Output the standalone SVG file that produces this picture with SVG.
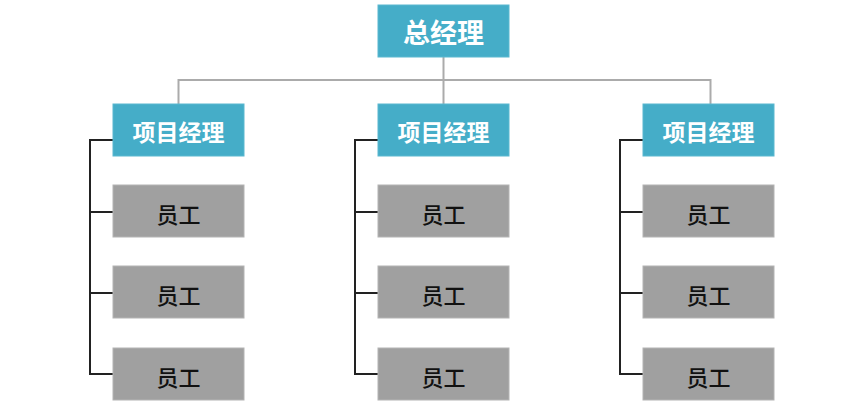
<svg xmlns="http://www.w3.org/2000/svg" width="864" height="409" viewBox="0 0 864 409">
<style>
.mgr rect{fill:#45ADC8;stroke:#5BB8D0;stroke-width:1}
.emp rect{fill:#A0A0A0;stroke:#B4B4B4;stroke-width:1}
text{font-family:"Noto Sans CJK SC","Noto Sans CJK TC",sans-serif;text-anchor:middle;dominant-baseline:central;font-weight:bold}
.mgr text{fill:#fff}
.emp text{fill:#111;font-size:22px;font-weight:500}
.gray{stroke:#ABABAB;stroke-width:2;fill:none}
.dark{stroke:#222;stroke-width:2;fill:none}
</style>
<rect width="864" height="409" fill="#fff"/>
<g id="connectors">
<path class="gray" d="M443.5 57V104M178.5 104V80H710.5V104"/>
<path class="dark" d="M113 140H90V374H113M90 212H113M90 293H113"/>
<path class="dark" d="M378 140H355V374H378M355 212H378M355 293H378"/>
<path class="dark" d="M643 140H620V374H643M620 212H643M620 293H643"/>
</g>
<g id="ceo" class="mgr"><rect x="378" y="5" width="131" height="52"/><text x="443.5" y="31" font-size="27">总经理</text></g>
<g id="pm1" class="mgr"><rect x="113" y="104" width="131" height="52"/><text x="178.5" y="131" font-size="23">项目经理</text></g>
<g id="pm2" class="mgr"><rect x="378" y="104" width="131" height="52"/><text x="443.5" y="131" font-size="23">项目经理</text></g>
<g id="pm3" class="mgr"><rect x="643" y="104" width="131" height="52"/><text x="708.5" y="131" font-size="23">项目经理</text></g>
<g id="e11" class="emp"><rect x="113" y="185" width="131" height="52"/><text x="178.5" y="213">员工</text></g>
<g id="e12" class="emp"><rect x="113" y="266" width="131" height="52"/><text x="178.5" y="294">员工</text></g>
<g id="e13" class="emp"><rect x="113" y="348" width="131" height="52"/><text x="178.5" y="376">员工</text></g>
<g id="e21" class="emp"><rect x="378" y="185" width="131" height="52"/><text x="443.5" y="213">员工</text></g>
<g id="e22" class="emp"><rect x="378" y="266" width="131" height="52"/><text x="443.5" y="294">员工</text></g>
<g id="e23" class="emp"><rect x="378" y="348" width="131" height="52"/><text x="443.5" y="376">员工</text></g>
<g id="e31" class="emp"><rect x="643" y="185" width="131" height="52"/><text x="708.5" y="213">员工</text></g>
<g id="e32" class="emp"><rect x="643" y="266" width="131" height="52"/><text x="708.5" y="294">员工</text></g>
<g id="e33" class="emp"><rect x="643" y="348" width="131" height="52"/><text x="708.5" y="376">员工</text></g>
</svg>
